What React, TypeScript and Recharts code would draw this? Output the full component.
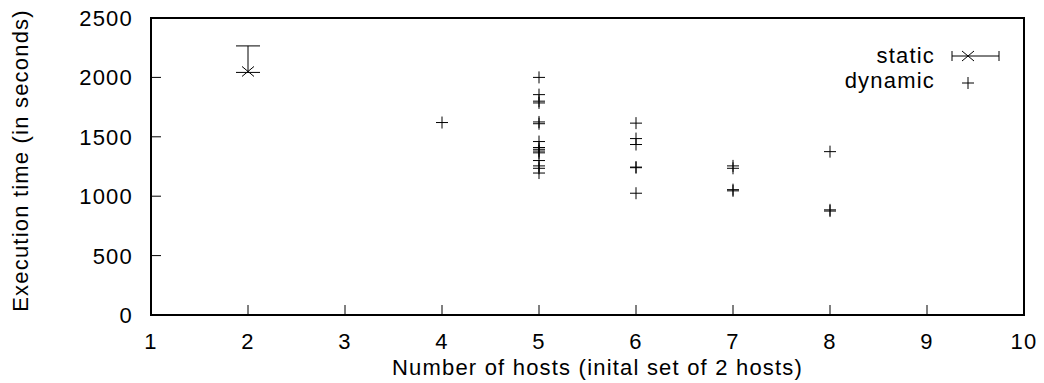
import React from "react";
import {
  ScatterChart,
  Scatter,
  XAxis,
  YAxis,
  ErrorBar,
  Legend,
  Label,
} from "recharts";

// x ticks (number of hosts) and y ticks (seconds)
const hostTicks = [1, 2, 3, 4, 5, 6, 7, 8, 9, 10];
const timeTicks = [0, 500, 1000, 1500, 2000, 2500];

// static run: one point with an asymmetric error bar
const staticHosts = [2];
const staticTimes = [2050];
const staticErrLow = [8];
const staticErrHigh = [215];

// dynamic runs
const dynamicHosts = [
  4,
  5, 5, 5, 5, 5, 5, 5, 5, 5, 5, 5, 5, 5, 5, 5,
  6, 6, 6, 6, 6, 6,
  7, 7, 7, 7,
  8, 8, 8,
];
const dynamicTimes = [
  1620,
  2000, 1855, 1800, 1785, 1625, 1610, 1460, 1410, 1395, 1380, 1365, 1300, 1255, 1235, 1195,
  1615, 1485, 1435, 1245, 1240, 1025,
  1255, 1235, 1055, 1045,
  1375, 885, 875,
];

const staticData = staticHosts.map((h, i) => ({
  hosts: h,
  time: staticTimes[i],
  err: [staticErrLow[i], staticErrHigh[i]],
}));
const dynamicData = dynamicHosts.map((h, i) => ({ hosts: h, time: dynamicTimes[i] }));

const FONT = "'Liberation Sans', Arial, sans-serif";
const textStyle = { fontFamily: FONT, fontSize: 22, letterSpacing: 1.2, fill: "#000" };

const PlusMark = ({ cx, cy }: any) => (
  <path d={`M${cx - 6},${cy}H${cx + 6}M${cx},${cy - 6}V${cy + 6}`} stroke="#000" strokeWidth={1} fill="none" />
);
const CrossMark = ({ cx, cy }: any) => (
  <path d={`M${cx - 6},${cy - 5}L${cx + 6},${cy + 5}M${cx - 6},${cy + 5}L${cx + 6},${cy - 5}`} stroke="#000" strokeWidth={1} fill="none" />
);

// tickSize/tickMargin are 0, so x/y here sit on the axis line itself
const BottomTick = ({ x, y, payload }: any) => (
  <g>
    <line x1={x} y1={y} x2={x} y2={y - 10} stroke="#000" />
    <text x={x} y={y + 34} textAnchor="middle" style={textStyle}>{payload.value}</text>
  </g>
);
const TopTick = ({ x, y }: any) => <line x1={x} y1={y} x2={x} y2={y + 10} stroke="#000" />;
const LeftTick = ({ x, y, payload }: any) => (
  <g>
    <line x1={x} y1={y} x2={x + 10} y2={y} stroke="#000" />
    <text x={x - 18} y={y + 8} textAnchor="end" style={textStyle}>{payload.value}</text>
  </g>
);
const RightTick = ({ x, y }: any) => <line x1={x} y1={y} x2={x - 10} y2={y} stroke="#000" />;

const LegendBox = () => (
  <svg width={220} height={60} style={{ display: "block" }}>
    <text x={115} y={23} textAnchor="end" style={textStyle}>static</text>
    <path d="M132,16H179M132,11V21M179,11V21" stroke="#000" fill="none" />
    <CrossMark cx={148} cy={16} />
    <text x={115} y={48} textAnchor="end" style={textStyle}>dynamic</text>
    <PlusMark cx={148} cy={43} />
  </svg>
);

const axisLine = { stroke: "#000", strokeWidth: 2, strokeLinecap: "square" as const };

export default function App() {
  return (
    <div style={{ position: "absolute", left: 0, top: 0, background: "#fff" }}>
      <ScatterChart width={1044} height={383} margin={{ top: 8, right: 10, bottom: 28, left: 91 }}>
        <XAxis
          dataKey="hosts"
          type="number"
          domain={[1, 10]}
          ticks={hostTicks}
          interval={0}
          height={40}
          tickSize={0}
          tickMargin={0}
          tickLine={false}
          tick={<BottomTick />}
          axisLine={axisLine}
        >
          <Label
            content={({ viewBox }: any) => (
              <text x={viewBox.x + viewBox.width / 2 + 10} y={viewBox.y + 60} textAnchor="middle" style={textStyle}>
                Number of hosts (inital set of 2 hosts)
              </text>
            )}
          />
        </XAxis>
        <XAxis
          xAxisId="top"
          orientation="top"
          type="number"
          domain={[1, 10]}
          ticks={hostTicks}
          interval={0}
          height={10}
          tickSize={0}
          tickMargin={0}
          tickLine={false}
          tick={<TopTick />}
          axisLine={axisLine}
        />
        <YAxis
          dataKey="time"
          type="number"
          domain={[0, 2500]}
          ticks={timeTicks}
          interval={0}
          width={60}
          tickSize={0}
          tickMargin={0}
          tickLine={false}
          tick={<LeftTick />}
          axisLine={axisLine}
        >
          <Label
            content={({ viewBox }: any) => {
              const cx = 28;
              const cy = viewBox.y + viewBox.height / 2 - 6;
              return (
                <text x={cx} y={cy} textAnchor="middle" transform={`rotate(-90 ${cx} ${cy})`} style={textStyle}>
                  Execution time (in seconds)
                </text>
              );
            }}
          />
        </YAxis>
        <YAxis
          yAxisId="right"
          orientation="right"
          type="number"
          domain={[0, 2500]}
          ticks={timeTicks}
          interval={0}
          width={10}
          tickSize={0}
          tickMargin={0}
          tickLine={false}
          tick={<RightTick />}
          axisLine={axisLine}
        />
        <Legend
          layout="vertical"
          align="center"
          verticalAlign="middle"
          wrapperStyle={{ position: "absolute", left: 820, top: 40, width: 220 }}
          content={() => <LegendBox />}
        />
        <Scatter name="static" data={staticData} shape={<CrossMark />} isAnimationActive={false}>
          <ErrorBar dataKey="err" direction="y" width={12} stroke="#000" strokeWidth={1} />
        </Scatter>
        <Scatter name="dynamic" data={dynamicData} shape={<PlusMark />} isAnimationActive={false} />
      </ScatterChart>
    </div>
  );
}
